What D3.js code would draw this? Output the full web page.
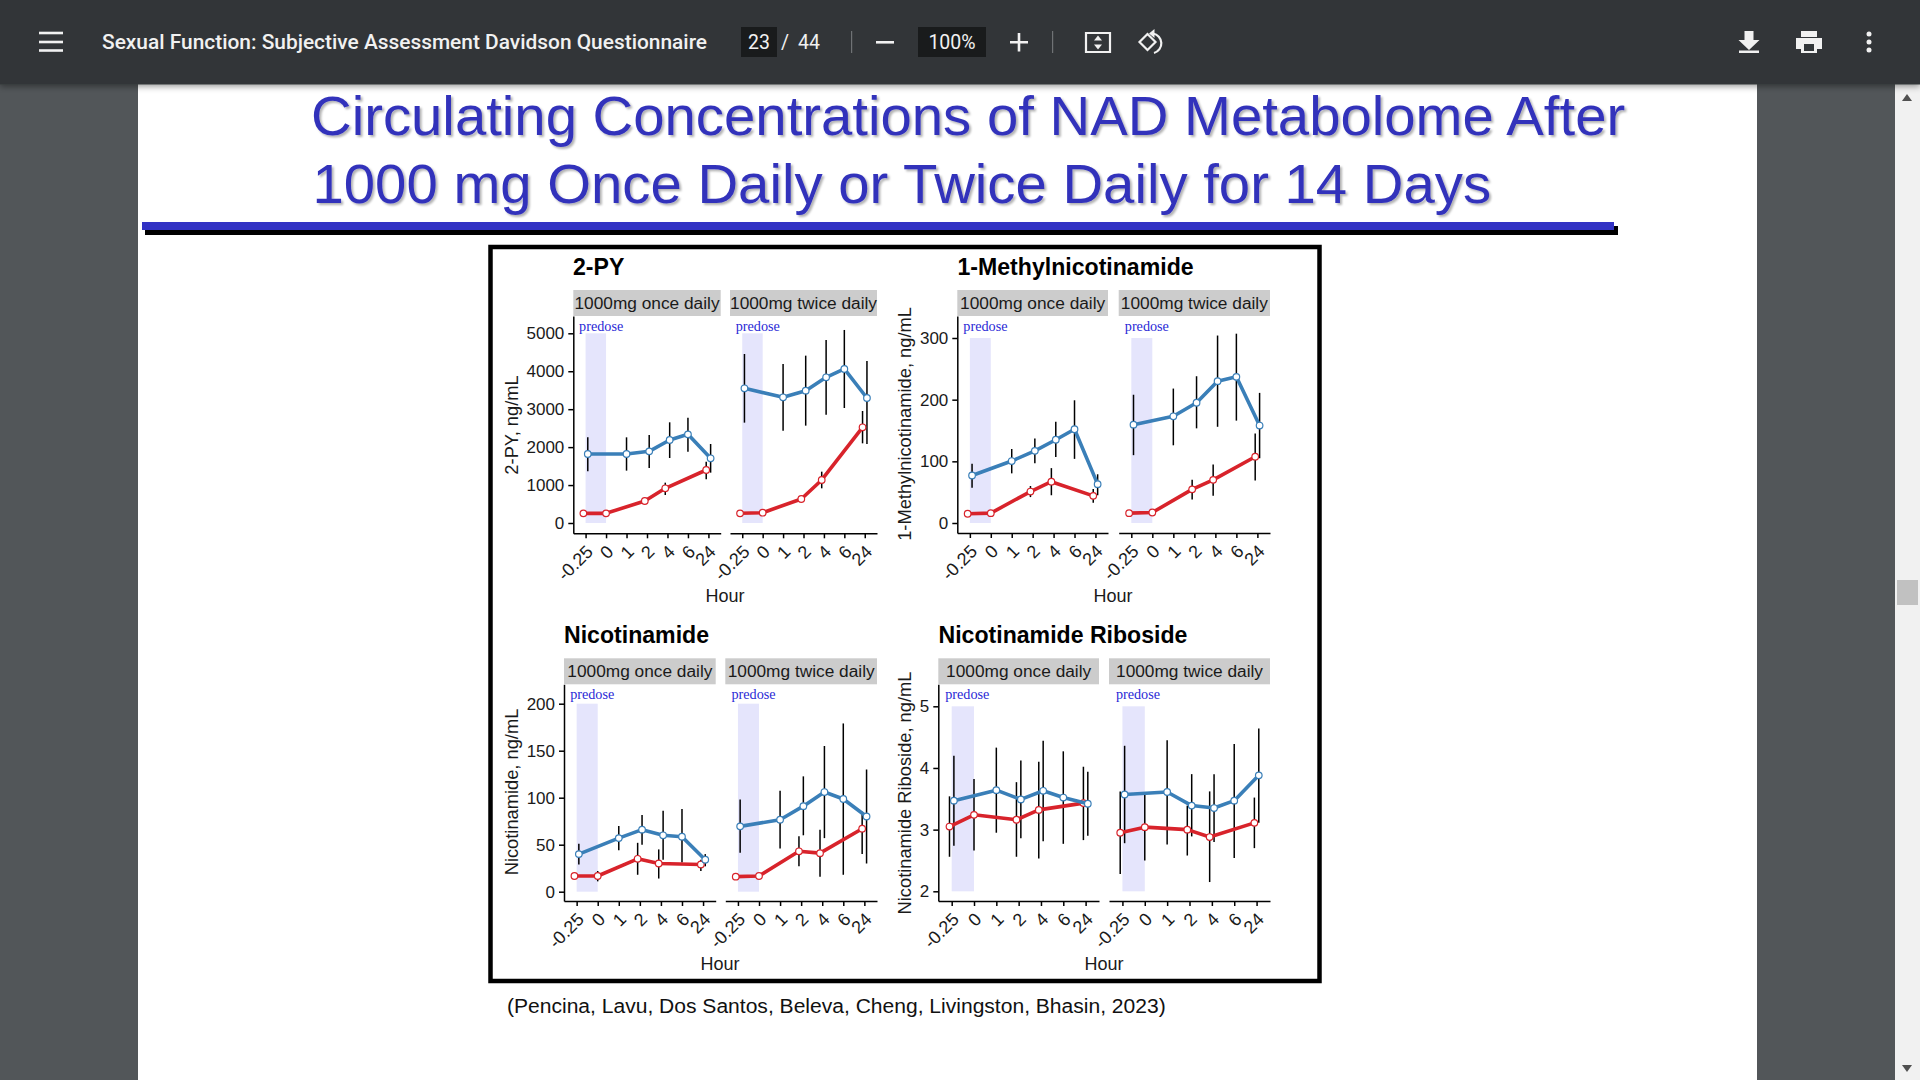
<!DOCTYPE html>
<html>
<head>
<meta charset="utf-8">
<script src="https://cdn.jsdelivr.net/npm/d3@7"></script>
<style>
  html, body { margin: 0; padding: 0; background: #525659; overflow: hidden; }
  svg { display: block; }
  text { font-family: "Liberation Sans", Arial, sans-serif; }
</style>
</head>
<body>
<div id="viewer"></div>
<script>
// shared categories and labels
const hours = ['-0.25', '0', '1', '2', '4', '6', '24'];
const redHours = ['-0.25', '0', '2', '4', '24'];
const blueHours = ['-0.25', '1', '2', '4', '6', '24'];
const doseLabels = ['1000mg once daily', '1000mg twice daily'];

const docTitle = 'Sexual Function: Subjective Assessment Davidson Questionnaire';
const slideTitle = [
  'Circulating Concentrations of NAD Metabolome After',
  '1000 mg Once Daily or Twice Daily for 14 Days',
];
const citation = '(Pencina, Lavu, Dos Santos, Beleva, Cheng, Livingston, Bhasin, 2023)';

// each row is [mean, low, high], same order as redHours / blueHours
const pyOnceRed = [[255, 235, 275], [255, 235, 275], [580, 530, 630], [914, 738, 1063], [1397, 1150, 1617]];
const pyOnceBlue = [[1819, 1362, 2258], [1819, 1380, 2258], [1889, 1450, 2320], [2188, 1713, 2654], [2337, 1880, 2777], [1705, 1327, 2083]];
const pyTwiceRed = [[255, 235, 275], [272, 250, 295], [633, 580, 690], [1134, 914, 1353], [2522, 2100, 2952]];
const pyTwiceBlue = [[3550, 2645, 4455], [3313, 2434, 4191], [3488, 2566, 4411], [3840, 2856, 4824], [4060, 3031, 5088], [3295, 2083, 4270]];

const mnaOnceRed = [[15, 13, 17], [16, 14, 18], [51, 42, 60], [67, 45, 89], [44, 33, 55]];
const mnaOnceBlue = [[77, 57, 96], [100.5, 80.5, 120], [117, 97, 137], [135, 107, 164], [152, 104, 199], [63, 45, 79]];
const mnaTwiceRed = [[16, 14, 18], [17, 15, 19], [54.6, 38, 70], [70, 44, 95], [107.5, 69, 145]];
const mnaTwiceBlue = [[159.5, 110, 208], [173, 126, 218], [195, 153.5, 238], [230, 156, 304], [237, 166, 307], [158, 105, 211]];

const namOnceRed = [[16.7, 15, 18], [16.7, 11, 22], [35, 18, 52], [30, 14, 45], [29, 22, 34]];
const namOnceBlue = [[40, 29, 51], [57, 44, 70], [66, 50, 81.5], [60, 34, 86], [58.5, 31, 88], [34, 27, 40]];
const namTwiceRed = [[16, 15, 17], [16.7, 15, 18], [43, 27, 59], [41, 16, 66], [67, 40, 85]];
const namTwiceBlue = [[69.5, 41.5, 98], [76.6, 46, 107.5], [91, 60, 122.7], [106, 57, 155], [98.6, 18, 179], [80, 30, 130]];

const nrOnceRed = [[3.05, 2.56, 3.54], [3.24, 2.66, 3.82], [3.16, 2.56, 3.77], [3.32, 2.53, 4.10], [3.43, 2.83, 4.02]];
const nrOnceBlue = [[3.47, 2.74, 4.2], [3.64, 2.95, 4.33], [3.49, 2.86, 4.12], [3.63, 2.81, 4.44], [3.52, 2.77, 4.27], [3.42, 2.90, 3.94]];
const nrTwiceRed = [[2.95, 2.28, 3.62], [3.04, 2.50, 3.57], [3.0, 2.58, 3.39], [2.88, 2.15, 3.62], [3.11, 2.70, 3.52]];
const nrTwiceBlue = [[3.57, 2.78, 4.36], [3.61, 2.76, 4.45], [3.39, 2.89, 3.90], [3.35, 2.80, 3.90], [3.47, 2.54, 4.39], [3.88, 3.11, 4.64]];

const pyTicks = [0, 1000, 2000, 3000, 4000, 5000];
const mnaTicks = [0, 100, 200, 300];
const namTicks = [0, 50, 100, 150, 200];
const nrTicks = [2, 3, 4, 5];

const RED = '#d8232b';
const BLUE = '#3a7fb8';
const DODGE = 2.2;

const svg = d3.select('#viewer').append('svg').attr('width', 1920).attr('height', 1080);

const defs = svg.append('defs');
const titleShadow = defs.append('filter').attr('id', 'titleShadow');
titleShadow.append('feDropShadow')
  .attr('dx', 2).attr('dy', 2).attr('stdDeviation', 1)
  .attr('flood-color', '#000').attr('flood-opacity', 0.3);
const barShadow = defs.append('filter').attr('id', 'barShadow')
  .attr('x', '-5%').attr('y', '-5%').attr('width', '110%').attr('height', '130%');
barShadow.append('feDropShadow')
  .attr('dx', 0).attr('dy', 2).attr('stdDeviation', 3)
  .attr('flood-color', '#000').attr('flood-opacity', 0.4);

// viewer background and page
svg.append('rect').attr('width', 1920).attr('height', 1080).attr('fill', '#525659');
svg.append('rect').attr('x', 138).attr('y', 0).attr('width', 1619).attr('height', 1080).attr('fill', '#fff');

// slide heading
svg.append('g').attr('filter', 'url(#titleShadow)')
  .selectAll('text')
  .data(slideTitle)
  .join('text')
  .attr('x', (d, i) => (i === 0 ? 311 : 312.5))
  .attr('y', (d, i) => (i === 0 ? 135 : 202.5))
  .attr('font-size', 56.3)
  .attr('fill', '#3333bb')
  .text((d) => d);
svg.append('rect').attr('x', 145).attr('y', 226).attr('width', 1473).attr('height', 9).attr('fill', '#000');
svg.append('rect').attr('x', 142).attr('y', 222).attr('width', 1472).attr('height', 8).attr('fill', '#3232c4');

// figure frame
svg.append('rect')
  .attr('x', 490.5).attr('y', 247).attr('width', 829).attr('height', 734)
  .attr('fill', '#fff').attr('stroke', '#000').attr('stroke-width', 4.5);

svg.append('text')
  .attr('x', 507).attr('y', 1012.5)
  .attr('font-size', 21.05)
  .attr('fill', '#111')
  .text(citation);

function drawFacet(g, opts) {
  const { left, right, top, axisY, yTop, y0, tickTop, tick0, ticks, red, blue, label, showY } = opts;

  const x = d3.scalePoint().domain(hours).range([left, right]).padding(0.6);
  const y = d3.scaleLinear().domain([tick0, tickTop]).range([y0, yTop]);

  // strip
  g.append('rect')
    .attr('x', left).attr('y', top)
    .attr('width', right - left).attr('height', 26)
    .attr('fill', '#cccccc');
  g.append('text')
    .attr('x', (left + right) / 2).attr('y', top + 19)
    .attr('text-anchor', 'middle')
    .attr('font-size', 17.3)
    .attr('fill', '#1a1a1a')
    .text(label);

  // predose band
  g.append('rect')
    .attr('x', x('-0.25')).attr('y', y(tickTop))
    .attr('width', x('0') - x('-0.25')).attr('height', y(tick0) - y(tickTop))
    .attr('fill', '#e5e5fc');
  g.append('text')
    .attr('x', x('-0.25') - 6.5).attr('y', top + 41)
    .attr('font-size', 14.2)
    .attr('fill', '#2a2ad6')
    .style('font-family', '"Liberation Serif", serif')
    .text('predose');

  // axes
  const xAxis = g.append('g')
    .attr('transform', `translate(0,${axisY})`)
    .call(d3.axisBottom(x).tickSize(5).tickSizeOuter(0));
  xAxis.selectAll('text')
    .attr('font-size', 18)
    .attr('fill', '#1a1a1a')
    .attr('text-anchor', 'end')
    .attr('y', 0)
    .attr('dy', 0)
    .attr('transform', 'translate(8,19.5) rotate(-45)');
  xAxis.selectAll('path, line').attr('stroke', '#000').attr('stroke-width', 1.5);

  if (showY) {
    const yFull = y.copy()
      .domain([y.invert(axisY), y.invert(top + 26)])
      .range([axisY, top + 26]);
    const yAxis = g.append('g')
      .attr('transform', `translate(${left},0)`)
      .call(d3.axisLeft(yFull).tickValues(ticks).tickFormat(d3.format('d')).tickSize(5).tickPadding(4).tickSizeOuter(0));
    yAxis.selectAll('text').attr('font-size', 17).attr('fill', '#1a1a1a');
    yAxis.selectAll('path, line').attr('stroke', '#000').attr('stroke-width', 1.5);
  }

  // red first, blue sits on top
  const series = [
    { hrs: redHours, rows: red, color: RED, other: blueHours, dir: -1 },
    { hrs: blueHours, rows: blue, color: BLUE, other: redHours, dir: 1 },
  ];
  const points = series.map((s) =>
    s.hrs.map((h, i) => ({
      px: x(h) + (s.other.includes(h) ? s.dir * DODGE : 0),
      mean: s.rows[i][0],
      low: s.rows[i][1],
      high: s.rows[i][2],
    }))
  );

  points.forEach((pts) => {
    g.append('g')
      .selectAll('line')
      .data(pts)
      .join('line')
      .attr('x1', (d) => d.px)
      .attr('x2', (d) => d.px)
      .attr('y1', (d) => y(d.low))
      .attr('y2', (d) => y(d.high))
      .attr('stroke', '#000')
      .attr('stroke-width', 1.5);
  });

  const line = d3.line().x((d) => d.px).y((d) => y(d.mean));
  points.forEach((pts, i) => {
    g.append('path')
      .datum(pts)
      .attr('fill', 'none')
      .attr('stroke', series[i].color)
      .attr('stroke-width', 3.6)
      .attr('stroke-linejoin', 'round')
      .attr('d', line);
    g.append('g')
      .selectAll('circle')
      .data(pts)
      .join('circle')
      .attr('cx', (d) => d.px)
      .attr('cy', (d) => y(d.mean))
      .attr('r', 3.3)
      .attr('fill', '#fff')
      .attr('stroke', series[i].color)
      .attr('stroke-width', 1.2);
  });
}

function drawGroup(o) {
  const g = svg.append('g');
  g.append('text')
    .attr('x', o.titleX).attr('y', o.top - 15)
    .attr('font-size', 23.1)
    .attr('font-weight', 'bold')
    .attr('fill', '#000')
    .text(o.title);

  g.append('text')
    .attr('transform', `translate(${o.yLabelX},${o.yLabelCy}) rotate(-90)`)
    .attr('text-anchor', 'middle')
    .attr('font-size', 18.3)
    .attr('fill', '#1a1a1a')
    .text(o.yLabel);

  g.append('text')
    .attr('x', o.hourX).attr('y', o.axisY + 69)
    .attr('text-anchor', 'middle')
    .attr('font-size', 18)
    .attr('fill', '#1a1a1a')
    .text('Hour');

  const shared = {
    top: o.top, axisY: o.axisY, yTop: o.yTop, y0: o.y0,
    tickTop: o.ticks[o.ticks.length - 1], tick0: o.ticks[0], ticks: o.ticks,
  };
  drawFacet(g, { ...shared, left: o.once[0], right: o.once[1], red: o.data[0], blue: o.data[1], label: doseLabels[0], showY: true });
  drawFacet(g, { ...shared, left: o.twice[0], right: o.twice[1], red: o.data[2], blue: o.data[3], label: doseLabels[1], showY: false });
}

drawGroup({
  title: '2-PY', titleX: 573, yLabel: '2-PY, ng/mL', yLabelX: 518, yLabelCy: 425, hourX: 725,
  top: 290, axisY: 533.3, yTop: 333.3, y0: 523, once: [573.3, 720.7], twice: [730, 877],
  ticks: pyTicks, data: [pyOnceRed, pyOnceBlue, pyTwiceRed, pyTwiceBlue],
});
drawGroup({
  title: '1-Methylnicotinamide', titleX: 957.5, yLabel: '1-Methylnicotinamide, ng/mL', yLabelX: 911, yLabelCy: 424, hourX: 1113,
  top: 290, axisY: 533, yTop: 338, y0: 523, once: [957.3, 1108], twice: [1118.7, 1270],
  ticks: mnaTicks, data: [mnaOnceRed, mnaOnceBlue, mnaTwiceRed, mnaTwiceBlue],
});
drawGroup({
  title: 'Nicotinamide', titleX: 564, yLabel: 'Nicotinamide, ng/mL', yLabelX: 518, yLabelCy: 792, hourX: 720,
  top: 658.3, axisY: 901, yTop: 703.7, y0: 891.7, once: [564, 715.7], twice: [725.3, 877],
  ticks: namTicks, data: [namOnceRed, namOnceBlue, namTwiceRed, namTwiceBlue],
});
drawGroup({
  title: 'Nicotinamide Riboside', titleX: 938.5, yLabel: 'Nicotinamide Riboside, ng/mL', yLabelX: 911, yLabelCy: 793, hourX: 1104,
  top: 658.3, axisY: 901, yTop: 706.3, y0: 891.3, once: [938.3, 1099], twice: [1109, 1270],
  ticks: nrTicks, data: [nrOnceRed, nrOnceBlue, nrTwiceRed, nrTwiceBlue],
});

// scrollbar
svg.append('rect').attr('x', 1895).attr('y', 84).attr('width', 25).attr('height', 996).attr('fill', '#f1f1f1');
svg.append('rect').attr('x', 1897).attr('y', 580).attr('width', 21).attr('height', 25).attr('fill', '#c1c1c1');
svg.append('path').attr('d', 'M1907 94l5 7h-10z').attr('fill', '#505050');
svg.append('path').attr('d', 'M1907 1072l5 -7h-10z').attr('fill', '#505050');

// toolbar
const bar = svg.append('g');
bar.append('rect').attr('width', 1920).attr('height', 84.5).attr('fill', '#323639').attr('filter', 'url(#barShadow)');

const menuY = [33, 42, 50.5];
bar.selectAll('.menu').data(menuY).join('rect')
  .attr('class', 'menu')
  .attr('x', 39).attr('y', (d) => d - 1.3)
  .attr('width', 24).attr('height', 2.6)
  .attr('fill', '#f1f1f1');

bar.append('text')
  .attr('x', 102).attr('y', 48.5)
  .attr('font-size', 20.9)
  .attr('font-weight', 500)
  .attr('fill', '#f1f1f1')
  .style('font-family', 'Roboto, sans-serif')
  .text(docTitle);

bar.append('rect').attr('x', 741).attr('y', 27).attr('width', 36).attr('height', 30).attr('fill', '#191b1c');
bar.append('rect').attr('x', 918).attr('y', 27).attr('width', 68).attr('height', 30).attr('fill', '#191b1c');

const barLabels = [
  { x: 759, text: '23', anchor: 'middle' },
  { x: 785, text: '/', anchor: 'middle' },
  { x: 809, text: '44', anchor: 'middle' },
  { x: 952, text: '100%', anchor: 'middle' },
];
bar.selectAll('.barLabel').data(barLabels).join('text')
  .attr('class', 'barLabel')
  .attr('x', (d) => d.x).attr('y', 48.5)
  .attr('text-anchor', (d) => d.anchor)
  .attr('font-size', 19.5)
  .attr('fill', '#f1f1f1')
  .style('font-family', 'Roboto, sans-serif')
  .text((d) => d.text);

const dividers = [851, 1052];
bar.selectAll('.divider').data(dividers).join('rect')
  .attr('class', 'divider')
  .attr('x', (d) => d).attr('y', 31).attr('width', 1.2).attr('height', 22)
  .attr('fill', '#6f7275');

// zoom, fit, rotate, download, print, more
const icon = (d, fill, stroke) =>
  bar.append('path').attr('d', d).attr('fill', fill || '#f1f1f1').attr('stroke', stroke || 'none').attr('stroke-width', stroke ? 2.2 : 0);
icon('M876 41h18v2.6h-18z');
icon('M1010 41h18v2.6h-18zM1017.7 33h2.6v18.6h-2.6z');
icon('M1086 33h24v19h-24z', 'none', '#f1f1f1');
icon('M1098 35.5l4 5h-8zM1098 49.5l4 -5h-8z');
icon('M1147.5 34l-8 8 8 8 8 -8z', 'none', '#f1f1f1');
icon('M1149 33.5l5.5 -4.5v9z');
icon('M1153 33.5a10 10 0 0 1 1 19.5', 'none', '#f1f1f1');
icon('M1744.5 31h9v9h6l-10.5 10 -10.5 -10h6zM1739 50.5h20v2.6h-20z');
icon('M1801 31h16v6h-16zM1796 38h26v11h-5v4h-16v-4h-5z');
bar.append('rect').attr('x', 1804).attr('y', 44).attr('width', 10).attr('height', 7).attr('fill', '#323639');
bar.selectAll('.dot').data([34, 42, 50]).join('circle')
  .attr('class', 'dot')
  .attr('cx', 1869).attr('cy', (d) => d).attr('r', 2.5)
  .attr('fill', '#f1f1f1');
</script>
</body>
</html>
